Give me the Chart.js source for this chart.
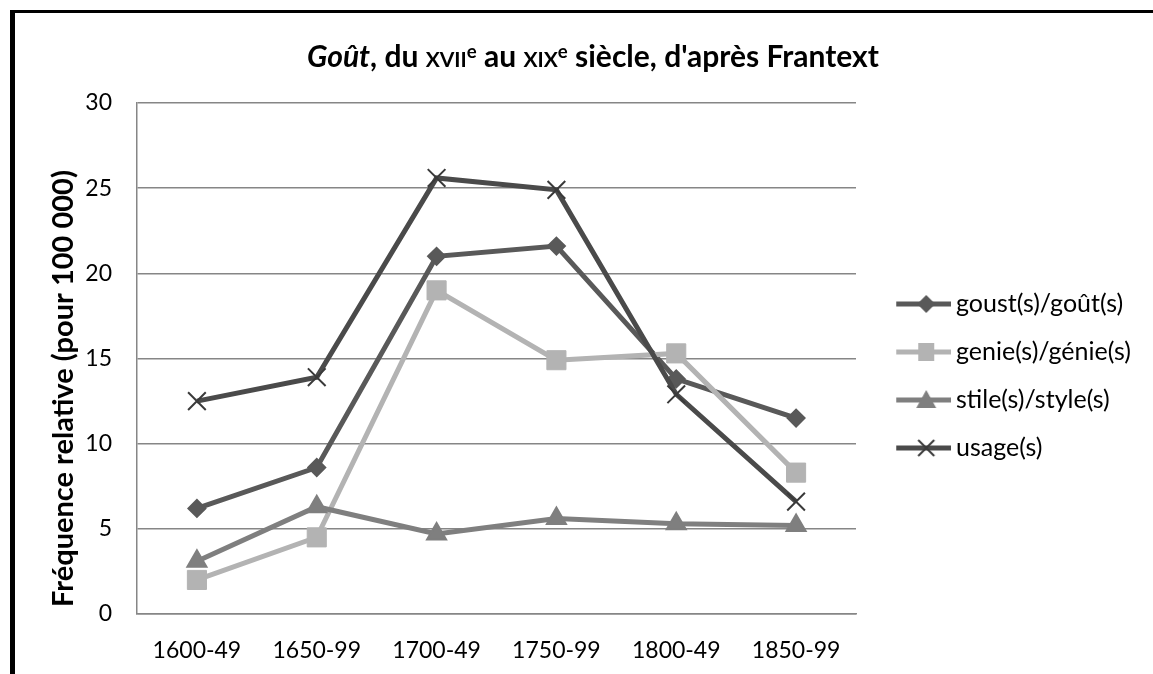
<!DOCTYPE html>
<html>
<head>
<meta charset="utf-8">
<script src="https://cdn.jsdelivr.net/npm/chart.js@4.4.0/dist/chart.umd.min.js"></script>
<style>
html,body{margin:0;padding:0;background:#fff;}
#wrap{position:relative;width:1153px;height:674px;overflow:hidden;background:#fff;}
#c{position:absolute;left:0;top:0;}
#frame{position:absolute;left:10px;top:10px;width:1300px;height:800px;border-top:3px solid #000;border-left:5px solid #000;box-sizing:border-box;pointer-events:none;}
#title{position:absolute;left:193px;width:800px;top:38px;text-align:center;font-family:Lato,"Open Sans",sans-serif;font-weight:bold;font-size:30px;line-height:34px;color:#000;white-space:nowrap;}
#title .sc{font-variant:small-caps;}
#title sup{font-size:0.62em;vertical-align:0.5em;line-height:0;}
</style>
</head>
<body>
<div id="wrap">
  <canvas id="c" width="1153" height="674"></canvas>
  <div id="frame"></div>
  <div id="title"><i>Goût</i>, du <span class="sc">xvii</span><sup>e</sup> au <span class="sc">xix</span><sup>e</sup> siècle, d'après Frantext</div>
</div>
<script>
// ---- data ----
const categories = ['1600-49', '1650-99', '1700-49', '1750-99', '1800-49', '1850-99'];
const seriesNames = ['goust(s)/goût(s)', 'genie(s)/génie(s)', 'stile(s)/style(s)', 'usage(s)'];
const goust = [6.2, 8.6, 21.0, 21.6, 13.8, 11.5];
const genie = [2.0, 4.5, 19.0, 14.9, 15.3, 8.3];
const stile = [3.1, 6.3, 4.7, 5.6, 5.3, 5.2];
const usage = [12.5, 13.9, 25.6, 24.9, 12.9, 6.6];
const yMin = 0, yMax = 30, yStep = 5;
const yTitle = 'Fréquence relative (pour 100 000)';

// ---- styles ----
const FONT = 'Lato, "Open Sans", sans-serif';
const colors = ['#595959', '#b3b3b3', '#7f7f7f', '#4a4a4a'];
const markerColors = ['#595959', '#b3b3b3', '#7f7f7f', '#3a3a3a'];
const kinds = ['diamond', 'square', 'triangle', 'x'];
const pointStyles = ['rectRot', 'rect', 'triangle', 'crossRot'];
const pointRadii = [8.5, 13.5, 11, 12.5];
const pointBorders = [2, 1, 2, 2];
const GRID = '#868686';

function legendIcon(color, mcolor, kind) {
  const c = document.createElement('canvas');
  c.width = 80; c.height = 26;
  const g = c.getContext('2d');
  const cy = 13, mx = 55;
  g.strokeStyle = color; g.lineWidth = 5;
  g.beginPath(); g.moveTo(25, cy); g.lineTo(80, cy); g.stroke();
  g.fillStyle = mcolor; g.strokeStyle = mcolor;
  g.beginPath();
  if (kind === 'diamond') {
    g.moveTo(mx, cy - 9); g.lineTo(mx + 9, cy); g.lineTo(mx, cy + 9); g.lineTo(mx - 9, cy); g.closePath(); g.fill();
  } else if (kind === 'square') {
    g.fillRect(mx - 8, cy - 9, 16, 18);
  } else if (kind === 'triangle') {
    g.moveTo(mx, cy - 10); g.lineTo(mx + 10, cy + 8); g.lineTo(mx - 10, cy + 8); g.closePath(); g.fill();
  } else {
    g.lineWidth = 2;
    g.moveTo(mx - 8, cy - 8); g.lineTo(mx + 8, cy + 8);
    g.moveTo(mx + 8, cy - 8); g.lineTo(mx - 8, cy + 8); g.stroke();
  }
  return c;
}
const icons = kinds.map((k, i) => legendIcon(colors[i], markerColors[i], k));

const seriesData = [goust, genie, stile, usage];
const datasets = seriesData.map((d, i) => ({
  label: seriesNames[i],
  data: d,
  borderColor: colors[i],
  backgroundColor: colors[i],
  borderWidth: 5,
  pointStyle: pointStyles[i],
  pointRadius: pointRadii[i],
  pointHoverRadius: pointRadii[i],
  pointBackgroundColor: markerColors[i],
  pointBorderColor: markerColors[i],
  pointBorderWidth: pointBorders[i],
  tension: 0,
  order: 4 - i
}));

const TARGET = {left: 137, right: 856, top: 103, bottom: 614};
const LEG_FS = 25;

const chart = new Chart(document.getElementById('c'), {
  type: 'line',
  data: { labels: categories, datasets: datasets },
  options: {
    responsive: false,
    animation: false,
    devicePixelRatio: 1,
    layout: { padding: { left: 20, right: 0, top: TARGET.top, bottom: 0 } },
    plugins: {
      tooltip: { enabled: false },
      title: { display: false },
      legend: {
        position: 'right',
        fullSize: false,
        align: 'center',
        maxWidth: 340,
        title: { display: true, text: ' ', font: { size: 10 }, padding: { top: 0, bottom: 23 } },
        labels: {
          usePointStyle: true,
          pointStyleWidth: 64.5,
          padding: 23,
          color: '#000',
          font: { family: FONT, size: LEG_FS },
          generateLabels: function(ch) {
            const items = Chart.defaults.plugins.legend.labels.generateLabels(ch);
            items.sort((a, b) => a.datasetIndex - b.datasetIndex);
            items.forEach(it => { it.pointStyle = icons[it.datasetIndex]; });
            return items;
          }
        }
      }
    },
    scales: {
      x: {
        offset: true,
        grid: { display: false, drawTicks: false },
        border: { display: true, color: GRID, width: 1.5 },
        ticks: { color: '#000', font: { family: FONT, size: 23 }, padding: 23, maxRotation: 0, autoSkip: false },
        afterFit: function(s) { s.height = 674 - TARGET.bottom; }
      },
      y: {
        min: yMin, max: yMax,
        ticks: { stepSize: yStep, color: '#000', font: { family: FONT, size: 23 }, padding: 25 },
        grid: { color: GRID, lineWidth: 1.5, drawTicks: false },
        border: { display: true, color: GRID, width: 1.5 },
        title: { display: true, text: ' ' + yTitle, align: 'start', color: '#000', font: { family: FONT, size: 29, weight: 'bold' }, padding: { top: 26, bottom: 0 } },
        afterFit: function(s) { s.width = TARGET.left - 20; }
      }
    }
  }
});
for (let k = 0; k < 3; k++) {
  const dx = chart.chartArea.right - TARGET.right;
  if (Math.abs(dx) <= 0.5) break;
  chart.options.layout.padding.right += dx;
  chart.update('none');
}
</script>
</body>
</html>
